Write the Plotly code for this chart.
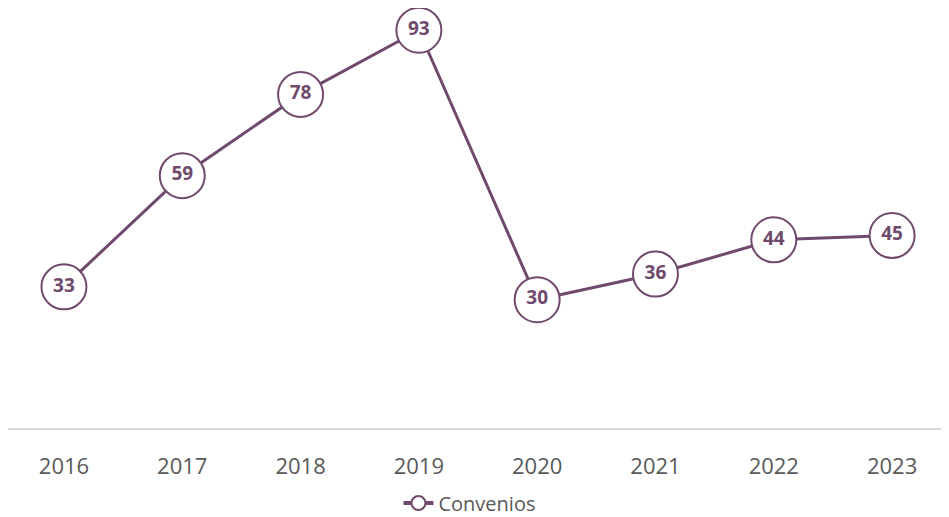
import plotly.graph_objects as go

years = ["2016", "2017", "2018", "2019", "2020", "2021", "2022", "2023"]
convenios = [33, 59, 78, 93, 30, 36, 44, 45]
series_name = "Convenios"

purple = "#6f4a6c"

fig = go.Figure()
fig.add_trace(go.Scatter(
    x=years, y=convenios, mode="lines+markers+text",
    text=[str(v) for v in convenios], textposition="middle center",
    textfont=dict(family="Open Sans", size=19, color=purple, weight="bold"),
    line=dict(color=purple, width=3),
    marker=dict(size=45, color="white", line=dict(color=purple, width=2)),
    showlegend=False, cliponaxis=False, hoverinfo="skip",
))
fig.add_trace(go.Scatter(
    x=[None], y=[None], mode="lines+markers", name=series_name,
    line=dict(color=purple, width=4),
    marker=dict(size=14, color="white", line=dict(color=purple, width=2)),
))

fig.update_layout(
    width=941, height=509,
    margin=dict(l=0, r=0, t=0, b=89, autoexpand=False),
    plot_bgcolor="white", paper_bgcolor="white",
    xaxis=dict(type="category", range=[-0.473, 7.481], showgrid=False,
               showline=True, linecolor="#d9d9d9", linewidth=2,
               tickfont=dict(family="Open Sans", size=22, color="#595959"),
               ticks="", ticklabelstandoff=18, zeroline=False, automargin=False),
    yaxis=dict(range=[0, 98.2], visible=False, showgrid=False, zeroline=False, automargin=False),
    legend=dict(orientation="h", x=0.4904, xanchor="center", y=-0.1786, yanchor="middle",
                font=dict(family="Open Sans", size=20, color="#595959")),
    showlegend=True,
)

fig.write_html("out.html")
